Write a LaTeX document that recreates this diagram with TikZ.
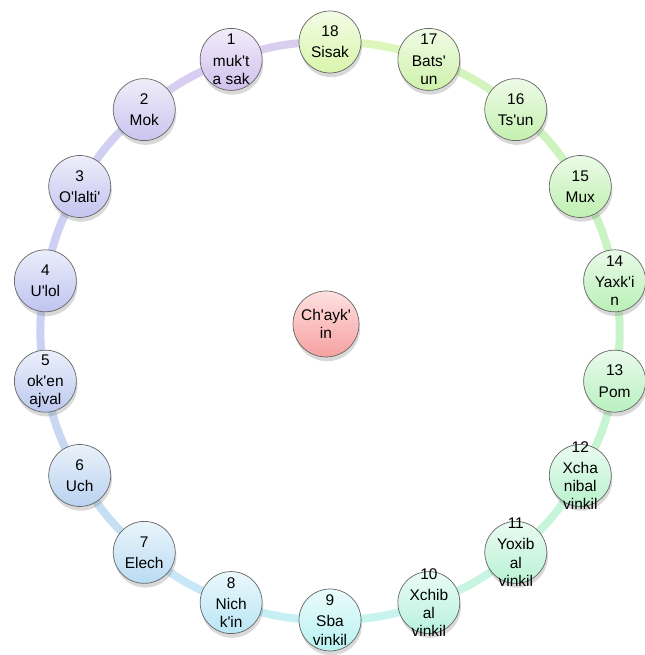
\documentclass[tikz,border=0pt]{standalone}
\usepackage{fontspec}
\newfontfamily\lblfont{Liberation Sans}
\usetikzlibrary{shadows,backgrounds}

\definecolor{c1}{RGB}{208,192,236}
\definecolor{c2}{RGB}{202,196,238}
\definecolor{c3}{RGB}{196,196,240}
\definecolor{c4}{RGB}{190,196,240}
\definecolor{c5}{RGB}{188,202,240}
\definecolor{c6}{RGB}{185,210,240}
\definecolor{c7}{RGB}{185,220,242}
\definecolor{c8}{RGB}{185,230,245}
\definecolor{c9}{RGB}{185,242,242}
\definecolor{c10}{RGB}{185,242,222}
\definecolor{c11}{RGB}{185,242,212}
\definecolor{c12}{RGB}{185,242,205}
\definecolor{c13}{RGB}{185,240,192}
\definecolor{c14}{RGB}{185,240,182}
\definecolor{c15}{RGB}{190,240,176}
\definecolor{c16}{RGB}{196,240,175}
\definecolor{c17}{RGB}{206,242,170}
\definecolor{c18}{RGB}{216,245,170}

\begin{document}
\begin{tikzpicture}[
  month/.style={circle, draw=black!60, line width=0.5pt, minimum size=1.55cm,
    inner sep=0pt,
    drop shadow={shadow xshift=0.8pt, shadow yshift=-3pt, opacity=0.3}},
  lbl/.style={align=center, inner sep=0pt, font=\lblfont\fontsize{11}{13}\selectfont},
  ring/.style={line width=0.2cm}]
  \useasboundingbox (0,0) rectangle (16.1,16.375);
  \coordinate (o) at (8.25,8.1);

  % the eighteen months round the ring
  \foreach \i/\txt in {1/{muk't\\a sak}, 2/Mok, 3/{O'lalti'}, 4/{U'lol},
      5/{ok'en\\ajval}, 6/Uch, 7/Elech, 8/{Nich\\k'in}, 9/{Sba\\vinkil},
      10/{Xchib\\al\\vinkil}, 11/{Yoxib\\al\\vinkil}, 12/{Xcha\\nibal\\vinkil},
      13/Pom, 14/{Yaxk'i\\n}, 15/Mux, 16/{Ts'un}, 17/{Bats'\\un}, 18/Sisak}
    \node[month, top color=c\i!30!white, bottom color=c\i,
      label={[lbl]center:{\i\\[2pt]\txt}}] (m\i)
      at ([shift={(90+20*\i:7.225)}]o) {};

  \node[month, top color=red!12!white, bottom color={rgb,255:red,246;green,160;blue,160},
    minimum size=1.65cm, label={[lbl]center:{Ch'ayk'\\in}}] (sun) at (8.15,8.275) {};

  \begin{scope}[on background layer]
    \foreach \i [evaluate=\i as \j using {int(\i+1)}] in {1,...,17}
      \draw[ring, draw=c\i!50!c\j!80!white] (m\i.center) to[bend right=10] (m\j.center);
    \draw[ring, draw=c1!80!white] (m18.center) to[bend right=10] (m1.center);
  \end{scope}
\end{tikzpicture}
\end{document}
